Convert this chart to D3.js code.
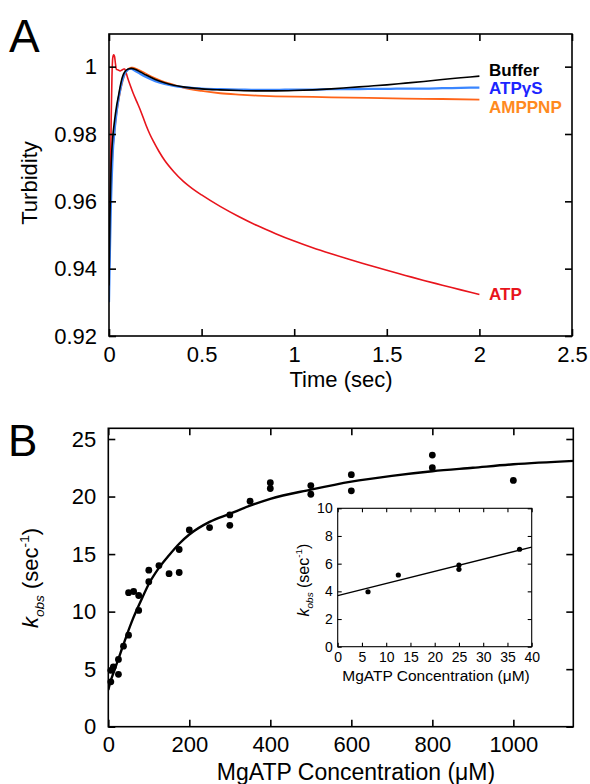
<!DOCTYPE html>
<html>
<head>
<meta charset="utf-8">
<script src="https://cdn.jsdelivr.net/npm/d3@7"></script>
<style>
  body { margin: 0; background: #fff; }
  svg, svg text { font-family: "Liberation Sans", Arimo, Arial, Helvetica, Roboto, sans-serif !important; }
</style>
</head>
<body>
<div id="chart"></div>
<script>
// ---- panel A: turbidity traces ----
const bufferTime = [0, 0.005, 0.01, 0.015, 0.02, 0.03, 0.04, 0.05, 0.06, 0.07, 0.08, 0.09, 0.1, 0.11, 0.12, 0.14, 0.17, 0.2, 0.25, 0.3, 0.35, 0.4, 0.5, 0.6, 0.7, 0.8, 0.9, 1.0, 1.1, 1.2, 1.3, 1.4, 1.5, 1.6, 1.7, 1.8, 1.9, 2.0];
const bufferVals = [0.935, 0.955, 0.968, 0.975, 0.979, 0.984, 0.988, 0.991, 0.994, 0.9965, 0.998, 0.9988, 0.9992, 0.9994, 0.9995, 0.9992, 0.9984, 0.9975, 0.9962, 0.9952, 0.9945, 0.994, 0.9934, 0.9931, 0.9929, 0.9928, 0.9928, 0.9929, 0.9931, 0.9934, 0.9938, 0.9942, 0.9946, 0.9951, 0.9956, 0.9962, 0.9967, 0.9972];

const atpgsTime = [0, 0.005, 0.01, 0.015, 0.02, 0.03, 0.04, 0.05, 0.06, 0.07, 0.08, 0.09, 0.1, 0.11, 0.12, 0.14, 0.17, 0.2, 0.25, 0.3, 0.35, 0.4, 0.5, 0.6, 0.7, 0.8, 0.9, 1.0, 1.1, 1.2, 1.3, 1.4, 1.5, 1.6, 1.7, 1.8, 1.9, 2.0];
const atpgsVals = [0.93, 0.945, 0.958, 0.967, 0.974, 0.981, 0.986, 0.99, 0.993, 0.9955, 0.9972, 0.9984, 0.999, 0.9993, 0.9993, 0.9988, 0.9978, 0.9969, 0.9957, 0.9949, 0.9943, 0.9939, 0.9935, 0.9933, 0.9932, 0.9931, 0.9931, 0.9932, 0.9932, 0.9933, 0.9933, 0.9934, 0.9934, 0.9935, 0.9935, 0.9936, 0.9937, 0.9938];

const amppnpTime = [0, 0.005, 0.01, 0.015, 0.02, 0.03, 0.04, 0.05, 0.06, 0.07, 0.08, 0.09, 0.1, 0.11, 0.12, 0.13, 0.14, 0.17, 0.2, 0.25, 0.3, 0.35, 0.4, 0.5, 0.6, 0.7, 0.8, 0.9, 1.0, 1.2, 1.4, 1.6, 1.8, 2.0];
const amppnpVals = [0.945, 0.955, 0.963, 0.97, 0.975, 0.981, 0.986, 0.9895, 0.9925, 0.995, 0.997, 0.9983, 0.9991, 0.9995, 0.9997, 0.9997, 0.9995, 0.9988, 0.9979, 0.9965, 0.9954, 0.9946, 0.9938, 0.9928, 0.9921, 0.9917, 0.9914, 0.9912, 0.9911, 0.9909, 0.9907, 0.9905, 0.9904, 0.9902];

const atpTime = [0, 0.004, 0.008, 0.012, 0.016, 0.02, 0.025, 0.03, 0.035, 0.04, 0.05, 0.06, 0.07, 0.08, 0.085, 0.09, 0.1, 0.115, 0.13, 0.15, 0.17, 0.2, 0.22, 0.24, 0.27, 0.3, 0.35, 0.4, 0.45, 0.5, 0.6, 0.7, 0.8, 0.9, 1.0, 1.1, 1.2, 1.3, 1.4, 1.5, 1.6, 1.7, 1.8, 1.9, 2.0];
const atpVals = [0.935, 0.95, 0.968, 0.985, 0.997, 1.0025, 1.0035, 1.003, 1.0008, 0.9992, 0.999, 0.9987, 0.999, 0.9993, 0.9993, 0.9986, 0.9968, 0.9944, 0.9922, 0.9896, 0.987, 0.9826, 0.98, 0.9778, 0.9748, 0.9722, 0.9688, 0.966, 0.9638, 0.9619, 0.9585, 0.9555, 0.9528, 0.9504, 0.9482, 0.9462, 0.9444, 0.9427, 0.9411, 0.9395, 0.938, 0.9365, 0.9351, 0.9337, 0.9323];

const timeTicks = [0, 0.5, 1, 1.5, 2, 2.5];
const turbTicks = [0.92, 0.94, 0.96, 0.98, 1];

// ---- panel B: kobs vs MgATP ----
const concB = [6.25, 6.25, 12.5, 25, 25, 37.5, 50, 50, 62.5, 75, 75, 100, 100, 125, 150, 175, 175, 200, 250, 300, 300, 350, 400, 400, 500, 500, 600, 600, 800, 800, 1000];
const kobsB = [3.9, 4.9, 5.2, 4.55, 5.85, 7.0, 7.95, 11.65, 11.75, 11.4, 10.1, 12.6, 13.6, 14.0, 13.3, 13.4, 15.4, 17.1, 17.3, 17.5, 18.4, 19.6, 20.7, 21.2, 20.2, 20.95, 20.5, 21.9, 22.5, 23.6, 21.4];
const fitConc = [0, 5, 12, 20, 30, 45, 60, 80, 100, 125, 150, 175, 200, 250, 300, 350, 400, 500, 600, 700, 800, 900, 1000, 1150];
const fitKobs = [3.2, 3.9, 4.6, 5.4, 6.4, 7.9, 9.3, 10.9, 12.4, 13.8, 14.9, 15.9, 16.7, 17.8, 18.5, 19.2, 19.8, 20.6, 21.3, 21.8, 22.2, 22.5, 22.8, 23.1];
const concTicks = [0, 200, 400, 600, 800, 1000];
const kobsTicks = [0, 5, 10, 15, 20, 25];

// inset: low concentrations
const concInset = [6.25, 12.5, 25, 25, 37.5];
const kobsInset = [3.97, 5.18, 5.9, 5.59, 7.04];
const insetFitConc = [0, 40];
const insetFitKobs = [3.69, 7.2];
const insetXTicks = [0, 5, 10, 15, 20, 25, 30, 35, 40];
const insetYTicks = [0, 2, 4, 6, 8, 10];

const svg = d3.select("#chart").append("svg")
    .attr("width", 590)
    .attr("height", 784);

svg.append("rect").attr("width", 590).attr("height", 784).attr("fill", "#fff");

// draws a boxed frame with inward ticks on all four sides
function frame(g, x, y, xTicks, yTicks, opt) {
    const [x0, x1] = x.range();
    const [y0, y1] = y.range();
    const t = opt.tick;

    const bottom = g.append("g").attr("transform", `translate(0,${y0})`)
        .call(d3.axisBottom(x).tickValues(xTicks).tickSize(-t).tickPadding(opt.xPad).tickFormat(opt.xFmt));
    const left = g.append("g").attr("transform", `translate(${x0},0)`)
        .call(d3.axisLeft(y).tickValues(yTicks).tickSize(-t).tickPadding(opt.yPad).tickFormat(opt.yFmt));
    g.append("g").attr("transform", `translate(0,${y1})`)
        .call(d3.axisTop(x).tickValues(xTicks).tickSize(-t).tickFormat(""));
    g.append("g").attr("transform", `translate(${x1},0)`)
        .call(d3.axisRight(y).tickValues(yTicks).tickSize(-t).tickFormat(""));

    g.selectAll(".domain").remove();
    g.selectAll("g").attr("font-family", null);
    g.selectAll(".tick line").attr("stroke", "#000").attr("stroke-width", opt.sw);
    bottom.selectAll("text").style("font-size", opt.fs + "px").attr("fill", "#000");
    left.selectAll("text").style("font-size", opt.fs + "px").attr("fill", "#000");

    g.append("rect")
        .attr("x", x0).attr("y", y1)
        .attr("width", x1 - x0).attr("height", y0 - y1)
        .attr("fill", "none").attr("stroke", "#000").attr("stroke-width", opt.sw);
}

// ===== Panel A =====
const gA = svg.append("g");
const xA = d3.scaleLinear().domain([0, 2.5]).range([109, 572]);
const yA = d3.scaleLinear().domain([0.92, 1.0097]).range([336, 34]);

svg.append("clipPath").attr("id", "clipA")
    .append("rect").attr("x", 109).attr("y", 34).attr("width", 463).attr("height", 302);

const lineA = d3.line()
    .x(d => xA(d[0]))
    .y(d => yA(d[1]))
    .curve(d3.curveMonotoneX);

const tracesA = [
    { name: "ATP", t: atpTime, v: atpVals, color: "#e8141c", label: "#e8141c", w: 1.6, ly: 300 },
    { name: "AMPPNP", t: amppnpTime, v: amppnpVals, color: "#ff6418", label: "#ff8a1e", w: 1.8, ly: 113 },
    { name: "ATPγS", t: atpgsTime, v: atpgsVals, color: "#3a86ff", label: "#1c24ff", w: 2.2, ly: 94 },
    { name: "Buffer", t: bufferTime, v: bufferVals, color: "#000", label: "#000", w: 1.6, ly: 76 }
];

const plotA = gA.append("g").attr("clip-path", "url(#clipA)");
tracesA.forEach(s => {
    plotA.append("path")
        .datum(s.t.map((t, i) => [t, s.v[i]]))
        .attr("fill", "none")
        .attr("stroke", s.color)
        .attr("stroke-width", s.w)
        .attr("d", lineA);
});

tracesA.forEach(s => {
    gA.append("text")
        .attr("x", 489).attr("y", s.ly)
        .attr("fill", s.label)
        .style("font-size", "17px").style("font-weight", "bold")
        .text(s.name);
});

frame(gA, xA, yA, timeTicks, turbTicks, {
    tick: 7, sw: 1.6, fs: 22, xPad: 10, yPad: 12,
    xFmt: d => String(d), yFmt: d => d === 1 ? "1" : d.toFixed(2)
});

gA.append("text")
    .attr("x", 341).attr("y", 387)
    .attr("text-anchor", "middle")
    .style("font-size", "22px")
    .text("Time (sec)");

gA.append("text")
    .attr("transform", "translate(37,183) rotate(-90)")
    .attr("text-anchor", "middle")
    .style("font-size", "22px")
    .text("Turbidity");

svg.append("text").attr("x", 9).attr("y", 52).style("font-size", "46px").text("A");

// ===== Panel B =====
const gB = svg.append("g");
const xB = d3.scaleLinear().domain([0, 1148]).range([108.3, 573.3]);
const yB = d3.scaleLinear().domain([0, 25.93]).range([726.7, 428.3]);

svg.append("clipPath").attr("id", "clipB")
    .append("rect").attr("x", 108.3).attr("y", 428.3).attr("width", 465).attr("height", 298.4);

const lineB = d3.line()
    .x(d => xB(d[0]))
    .y(d => yB(d[1]))
    .curve(d3.curveMonotoneX);

gB.append("path")
    .datum(fitConc.map((c, i) => [c, fitKobs[i]]))
    .attr("clip-path", "url(#clipB)")
    .attr("fill", "none")
    .attr("stroke", "#000")
    .attr("stroke-width", 2.4)
    .attr("d", lineB);

gB.selectAll(".dotB")
    .data(concB.map((c, i) => [c, kobsB[i]]))
    .enter()
    .append("circle")
    .attr("class", "dotB")
    .attr("cx", d => xB(d[0]))
    .attr("cy", d => yB(d[1]))
    .attr("r", 3.4)
    .attr("fill", "#000");

frame(gB, xB, yB, concTicks, kobsTicks, {
    tick: 7, sw: 1.6, fs: 22, xPad: 10, yPad: 12,
    xFmt: d => String(d), yFmt: d => String(d)
});

gB.append("text")
    .attr("x", 356).attr("y", 780)
    .attr("text-anchor", "middle")
    .style("font-size", "23px")
    .text("MgATP Concentration (\u03bcM)");

function kobsLabel(g, tx, ty, fs) {
    const t = g.append("text")
        .attr("transform", `translate(${tx},${ty}) rotate(-90)`)
        .attr("text-anchor", "middle")
        .style("font-size", fs + "px");
    t.append("tspan").style("font-style", "italic").text("k");
    t.append("tspan").style("font-style", "italic").style("font-size", (fs * 0.62) + "px")
        .attr("dy", fs * 0.25).text("obs");
    t.append("tspan").attr("dy", -fs * 0.25).text(" (sec");
    t.append("tspan").style("font-size", (fs * 0.62) + "px").attr("dy", -fs * 0.42).text("-1");
    t.append("tspan").attr("dy", fs * 0.42).text(")");
}

kobsLabel(gB, 38, 578, 22);

svg.append("text").attr("x", 8).attr("y", 456).style("font-size", "44px").text("B");

// ===== Inset =====
const gI = svg.append("g");
const xI = d3.scaleLinear().domain([0, 40]).range([337.7, 531.7]);
const yI = d3.scaleLinear().domain([0, 10]).range([646.7, 508.3]);

gI.append("rect")
    .attr("x", 337.7).attr("y", 508.3).attr("width", 194).attr("height", 138.4)
    .attr("fill", "#fff");

gI.append("path")
    .datum(insetFitConc.map((c, i) => [c, insetFitKobs[i]]))
    .attr("fill", "none")
    .attr("stroke", "#000")
    .attr("stroke-width", 1.3)
    .attr("d", d3.line().x(d => xI(d[0])).y(d => yI(d[1])));

gI.selectAll(".dotI")
    .data(concInset.map((c, i) => [c, kobsInset[i]]))
    .enter()
    .append("circle")
    .attr("class", "dotI")
    .attr("cx", d => xI(d[0]))
    .attr("cy", d => yI(d[1]))
    .attr("r", 2.6)
    .attr("fill", "#000");

frame(gI, xI, yI, insetXTicks, insetYTicks, {
    tick: 4, sw: 1.1, fs: 14, xPad: 5, yPad: 5,
    xFmt: d => String(d), yFmt: d => String(d)
});

gI.append("text")
    .attr("x", 436).attr("y", 681)
    .attr("text-anchor", "middle")
    .style("font-size", "15.5px")
    .text("MgATP Concentration (\u03bcM)");

kobsLabel(gI, 309, 580, 16);
</script>
</body>
</html>
